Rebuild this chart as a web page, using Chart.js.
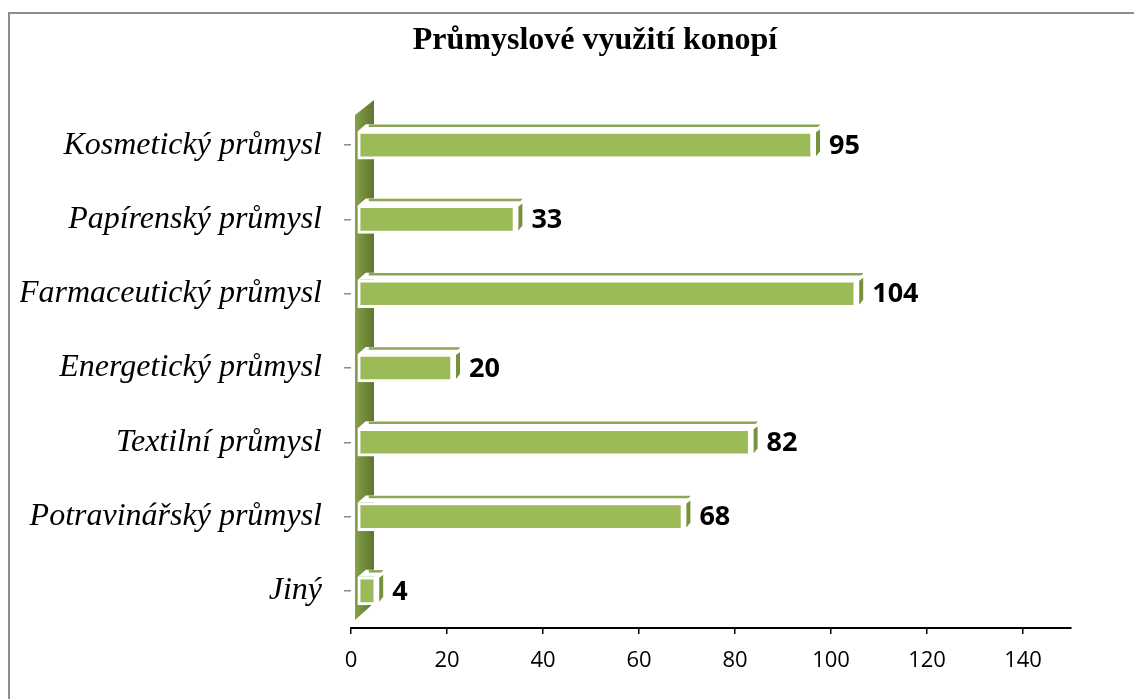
<!DOCTYPE html>
<html>
<head>
<meta charset="utf-8">
<script src="https://cdn.jsdelivr.net/npm/chart.js@4.4.0/dist/chart.umd.min.js"></script>
<style>
  html, body { margin: 0; padding: 0; background: #fff; }
  #wrap { width: 1134px; height: 699px; position: relative; }
</style>
</head>
<body>
<div id="wrap"><canvas id="graf"></canvas></div>
<script>
// kategorie shora dolů
var categories = ['Kosmetický průmysl', 'Papírenský průmysl', 'Farmaceutický průmysl',
                  'Energetický průmysl', 'Textilní průmysl', 'Potravinářský průmysl', 'Jiný'];
var values = [95, 33, 104, 20, 82, 68, 4];
var xTicks = [0, 20, 40, 60, 80, 100, 120, 140];
var xMax = 150;
var title = 'Průmyslové využití konopí';

// 3D efekt (posun hloubky)
var dx = 8, dy = 7, shift = 6;

var bar3d = {
  id: 'bar3d',
  beforeDraw: function (chart) {
    var c = chart.ctx;
    c.save();
    c.fillStyle = '#fff';
    c.fillRect(0, 0, chart.width, chart.height);
    // rámeček
    c.strokeStyle = '#8c8c8c';
    c.lineWidth = 2;
    c.beginPath();
    c.moveTo(9, chart.height);
    c.lineTo(9, 13);
    c.lineTo(chart.width, 13);
    c.stroke();
    // nadpis
    c.fillStyle = '#000';
    c.font = 'bold 32px "Liberation Serif"';
    c.textAlign = 'center';
    c.textBaseline = 'middle';
    c.fillText(title, 595, 41);
    c.restore();
  },
  beforeDatasetsDraw: function (chart) {
    var c = chart.ctx, a = chart.chartArea;
    // boční stěna
    var x0 = a.left + 4, w = 19;
    var g = c.createLinearGradient(x0, 0, x0 + w, 0);
    g.addColorStop(0, '#86a04b');
    g.addColorStop(0.5, '#718a3a');
    g.addColorStop(1, '#60752f');
    c.save();
    c.fillStyle = g;
    c.beginPath();
    c.moveTo(x0, a.top + 7);
    c.lineTo(x0 + w, a.top - 8);
    c.lineTo(x0 + w, a.bottom - 25);
    c.lineTo(x0, a.bottom - 8);
    c.closePath();
    c.fill();
    c.restore();

    c.save();
    c.translate(shift, 0);
    chart.getDatasetMeta(0).data.forEach(function (bar) {
      var p = bar.getProps(['x', 'y', 'base', 'height'], true);
      var xl = p.base, xr = p.x, yt = p.y - p.height / 2, yb = p.y + p.height / 2;
      // horní plocha
      c.fillStyle = '#fff';
      c.beginPath();
      c.moveTo(xl, yt);
      c.lineTo(xl + dx, yt - dy);
      c.lineTo(xr + dx, yt - dy);
      c.lineTo(xr, yt);
      c.closePath();
      c.fill();
      c.strokeStyle = '#8ca653';
      c.lineWidth = 2.5;
      c.beginPath();
      c.moveTo(xl + dx + 3, yt - dy + 1.5);
      c.lineTo(xr + dx - 1, yt - dy + 1.5);
      c.stroke();
      // pravá plocha
      c.fillStyle = '#fff';
      c.beginPath();
      c.moveTo(xr, yt);
      c.lineTo(xr + dx, yt - dy);
      c.lineTo(xr + dx, yb - dy);
      c.lineTo(xr, yb);
      c.closePath();
      c.fill();
      c.fillStyle = '#76923c';
      c.beginPath();
      c.moveTo(xr + 3, yt + 1);
      c.lineTo(xr + dx - 1, yt - dy + 5);
      c.lineTo(xr + dx - 1, yb - dy - 1);
      c.lineTo(xr + 3, yb - 3);
      c.closePath();
      c.fill();
    });
  },
  afterDatasetsDraw: function (chart) {
    var c = chart.ctx;
    c.restore();
    c.save();
    c.fillStyle = '#000';
    c.font = 'bold 27px "Open Sans"';
    c.textAlign = 'left';
    c.textBaseline = 'middle';
    chart.getDatasetMeta(0).data.forEach(function (bar, i) {
      var p = bar.getProps(['x', 'y'], true);
      c.fillText(String(values[i]), p.x + shift + 16, p.y + 1);
    });
    c.restore();
  }
};

var ctx = document.getElementById('graf');
new Chart(ctx, {
  type: 'bar',
  data: {
    labels: categories,
    datasets: [{
      data: values,
      backgroundColor: '#9bbb59',
      borderColor: '#fff',
      borderWidth: 3,
      borderSkipped: false,
      barThickness: 28
    }]
  },
  options: {
    indexAxis: 'y',
    responsive: true,
    maintainAspectRatio: false,
    animation: false,
    devicePixelRatio: 1,
    layout: { padding: { left: 20, right: 63, top: 108, bottom: 0 } },
    plugins: {
      legend: { display: false },
      tooltip: { enabled: false },
      title: { display: false }
    },
    scales: {
      x: {
        min: 0,
        max: xMax,
        afterBuildTicks: function (scale) {
          scale.ticks = xTicks.map(function (v) { return { value: v }; });
        },
        afterFit: function (scale) { scale.height = 71; },
        border: { display: true, color: '#000', width: 2 },
        grid: { drawOnChartArea: false, tickLength: 6, color: '#000', lineWidth: 1.5 },
        ticks: {
          color: '#000',
          padding: 14,
          maxRotation: 0,
          font: { family: '"Open Sans"', size: 22 }
        }
      },
      y: {
        afterFit: function (scale) { scale.width = 331; },
        border: { display: false },
        grid: { drawOnChartArea: false, offset: false, tickLength: 7, color: '#8c8c8c', lineWidth: 1.5 },
        ticks: {
          color: '#000',
          padding: 22,
          font: { family: '"Liberation Serif"', size: 32, style: 'italic' }
        }
      }
    }
  },
  plugins: [bar3d]
});
</script>
</body>
</html>
